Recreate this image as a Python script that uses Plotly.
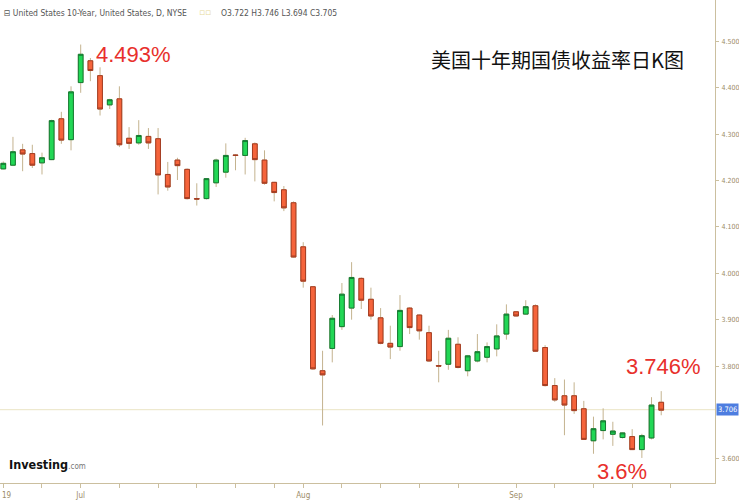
import plotly.graph_objects as go

# ---- data ----
opens = [4.225, 4.233, 4.266, 4.258, 4.238, 4.245, 4.333, 4.288, 4.411, 4.458,
         4.426, 4.363, 4.376, 4.291, 4.281, 4.295, 4.290, 4.213, 4.244, 4.224,
         4.161, 4.161, 4.195, 4.218, 4.255, 4.254, 4.279, 4.244, 4.196, 4.180,
         4.152, 4.057, 3.971, 3.790, 3.838, 3.885, 3.925, 3.989, 3.944, 3.904,
         3.849, 3.842, 3.925, 3.910, 3.872, 3.801, 3.804, 3.847, 3.790, 3.811,
         3.819, 3.837, 3.869, 3.917, 3.912, 3.930, 3.840, 3.758, 3.736, 3.736,
         3.708, 3.639, 3.661, 3.653, 3.646, 3.648, 3.620, 3.645, 3.722]
closes = [4.237, 4.262, 4.257, 4.233, 4.249, 4.329, 4.287, 4.391, 4.472, 4.437,
          4.354, 4.374, 4.277, 4.280, 4.297, 4.281, 4.212, 4.186, 4.232, 4.161,
          4.160, 4.204, 4.244, 4.254, 4.254, 4.286, 4.245, 4.194, 4.174, 4.141,
          4.035, 3.983, 3.794, 3.781, 3.903, 3.955, 3.991, 3.942, 3.908, 3.849,
          3.841, 3.920, 3.883, 3.876, 3.811, 3.800, 3.860, 3.797, 3.822, 3.831,
          3.842, 3.865, 3.912, 3.908, 3.928, 3.832, 3.758, 3.727, 3.716, 3.704,
          3.642, 3.665, 3.682, 3.660, 3.656, 3.620, 3.650, 3.716, 3.705]
highs = [4.241, 4.294, 4.279, 4.277, 4.260, 4.331, 4.348, 4.403, 4.493, 4.464,
         4.444, 4.376, 4.403, 4.315, 4.330, 4.313, 4.313, 4.240, 4.249, 4.226,
         4.194, 4.205, 4.247, 4.280, 4.257, 4.292, 4.282, 4.265, 4.197, 4.188,
         4.155, 4.067, 3.972, 3.833, 3.910, 3.979, 4.024, 3.991, 3.969, 3.925,
         3.887, 3.953, 3.927, 3.911, 3.887, 3.833, 3.878, 3.862, 3.824, 3.869,
         3.851, 3.890, 3.933, 3.918, 3.942, 3.933, 3.845, 3.774, 3.771, 3.765,
         3.725, 3.691, 3.709, 3.680, 3.657, 3.664, 3.654, 3.733, 3.746]
lows = [4.224, 4.231, 4.220, 4.227, 4.213, 4.244, 4.279, 4.265, 4.389, 4.414,
        4.340, 4.354, 4.272, 4.268, 4.277, 4.268, 4.170, 4.178, 4.201, 4.159,
        4.146, 4.159, 4.186, 4.206, 4.222, 4.213, 4.198, 4.191, 4.155, 4.134,
        4.034, 3.969, 3.792, 3.672, 3.808, 3.878, 3.900, 3.923, 3.900, 3.847,
        3.815, 3.833, 3.869, 3.857, 3.809, 3.765, 3.792, 3.795, 3.778, 3.808,
        3.808, 3.821, 3.857, 3.907, 3.911, 3.831, 3.756, 3.723, 3.651, 3.697,
        3.641, 3.611, 3.642, 3.628, 3.644, 3.619, 3.602, 3.642, 3.694]

tick_days = [0, 4, 8, 12, 16, 20, 24, 28, 31, 35, 39, 43, 47, 53, 57, 61, 65, 69]
tick_text = ["", "", "Jul", "", "", "", "", "", "Aug", "", "", "", "", "Sep", "", "", "", ""]
first_tick_label = "19"
y_ticks = [3.6, 3.8, 3.9, 4.0, 4.1, 4.2, 4.3, 4.4, 4.5]
last_price = 3.706

header_name = "⊟ United States 10-Year, United States, D, NYSE"
header_ohlc = "O3.722 H3.746 L3.694 C3.705"
title_cn = "美国十年期国债收益率日K图"
peak_label, last_label, low_label = "4.493%", "3.746%", "3.6%"

# ---- styles ----
GREEN = "#22d755"
GREEN_EDGE = "#137a32"
RED = "#f5643b"
RED_EDGE = "#a43c22"
WICK = "#c4b38f"
AXIS = "#cbbf9f"
TICKFONT = "#9c8c68"
NARROW = "Liberation Sans Narrow, DejaVu Sans Condensed, Arial Narrow, sans-serif"
RED_TXT = dict(family="Liberation Sans, Arial, sans-serif", size=22, color="#e8302c")

days = list(range(len(opens)))
body_top = [max(o, c) for o, c in zip(opens, closes)]
body_bot = [min(o, c) for o, c in zip(opens, closes)]

fig = go.Figure()
# wicks
fig.add_trace(go.Candlestick(
    x=days, open=opens, high=highs, low=lows, close=closes,
    increasing=dict(line=dict(color=WICK, width=1), fillcolor=GREEN),
    decreasing=dict(line=dict(color=WICK, width=1), fillcolor=RED),
    whiskerwidth=0, showlegend=False, hoverinfo="skip"))
# bodies
fig.add_trace(go.Candlestick(
    x=days, open=opens, high=body_top, low=body_bot, close=closes,
    increasing=dict(line=dict(color=GREEN_EDGE, width=1), fillcolor=GREEN),
    decreasing=dict(line=dict(color=RED_EDGE, width=1), fillcolor=RED),
    whiskerwidth=0, showlegend=False))

fig.add_hline(y=last_price, line=dict(color="#ebe4c4", width=1), layer="below")

fig.update_layout(
    width=739, height=500,
    margin=dict(l=0, r=21, t=0, b=16),
    paper_bgcolor="white", plot_bgcolor="white",
    showlegend=False,
    xaxis=dict(range=[-0.34, 73.56], rangeslider=dict(visible=False),
               showgrid=False, zeroline=False, showline=True, linecolor=AXIS,
               tickmode="array", tickvals=tick_days, ticktext=tick_text,
               ticks="outside", ticklen=4, tickcolor=AXIS,
               tickfont=dict(family=NARROW, size=8, color=TICKFONT)),
    yaxis=dict(range=[3.548, 4.589], side="right", showgrid=False, zeroline=False,
               showline=True, linecolor=AXIS, tickmode="array", tickvals=y_ticks,
               tickformat=".3f", ticks="outside", ticklen=3, tickcolor=AXIS,
               ticklabelstandoff=1,
               tickfont=dict(family=NARROW, size=7, color=TICKFONT)),
)

ann = [
    dict(text=header_name, xref="paper", yref="paper", x=0.0, y=1.0, xshift=2, yshift=-6,
         xanchor="left", yanchor="top", showarrow=False,
         font=dict(family=NARROW, size=8.5, color="#555555")),
    dict(text="▫▫", xref="paper", yref="paper", x=0.0, y=1.0, xshift=197, yshift=-5,
         xanchor="left", yanchor="top", showarrow=False,
         font=dict(family="DejaVu Sans", size=9, color="#e6d99a")),
    dict(text=header_ohlc, xref="paper", yref="paper", x=0.0, y=1.0, xshift=219, yshift=-6,
         xanchor="left", yanchor="top", showarrow=False,
         font=dict(family=NARROW, size=8.5, color="#555555")),
    dict(text=title_cn, xref="paper", yref="paper", x=0.78, y=0.876,
         xanchor="center", yanchor="middle", showarrow=False,
         font=dict(family="Noto Sans CJK SC", size=20, color="#111111")),
    dict(text=peak_label, x=13.5, y=4.471, xanchor="center", yanchor="middle",
         showarrow=False, font=RED_TXT),
    dict(text=last_label, x=68.25, y=3.800, xanchor="center", yanchor="middle",
         showarrow=False, font=RED_TXT),
    dict(text=low_label, x=63.95, y=3.572, xanchor="center", yanchor="middle",
         showarrow=False, font=RED_TXT),
    dict(text=first_tick_label, xref="paper", yref="paper", x=0, y=0, yshift=-6,
         xanchor="left", yanchor="top", showarrow=False,
         font=dict(family=NARROW, size=8, color=TICKFONT)),
    dict(text=f"{last_price:.3f}", xref="paper", yref="y", x=1.0, y=last_price, xshift=1,
         xanchor="left", yanchor="middle", showarrow=False, bgcolor="#4d7de0", borderpad=1,
         font=dict(family=NARROW, size=7.5, color="white")),
    dict(text="<b>Investing</b><span style='font-size:8px;color:#777'>.com</span>",
         xref="paper", yref="paper", x=0.0, y=0.0, xshift=7, yshift=9,
         xanchor="left", yanchor="bottom", showarrow=False,
         font=dict(family=NARROW, size=12.5, color="#111111")),
]
fig.update_layout(annotations=ann)

fig.write_html("out.html", config=dict(displayModeBar=False),
               post_script="document.body.style.margin='0px';document.body.style.overflow='hidden';")
